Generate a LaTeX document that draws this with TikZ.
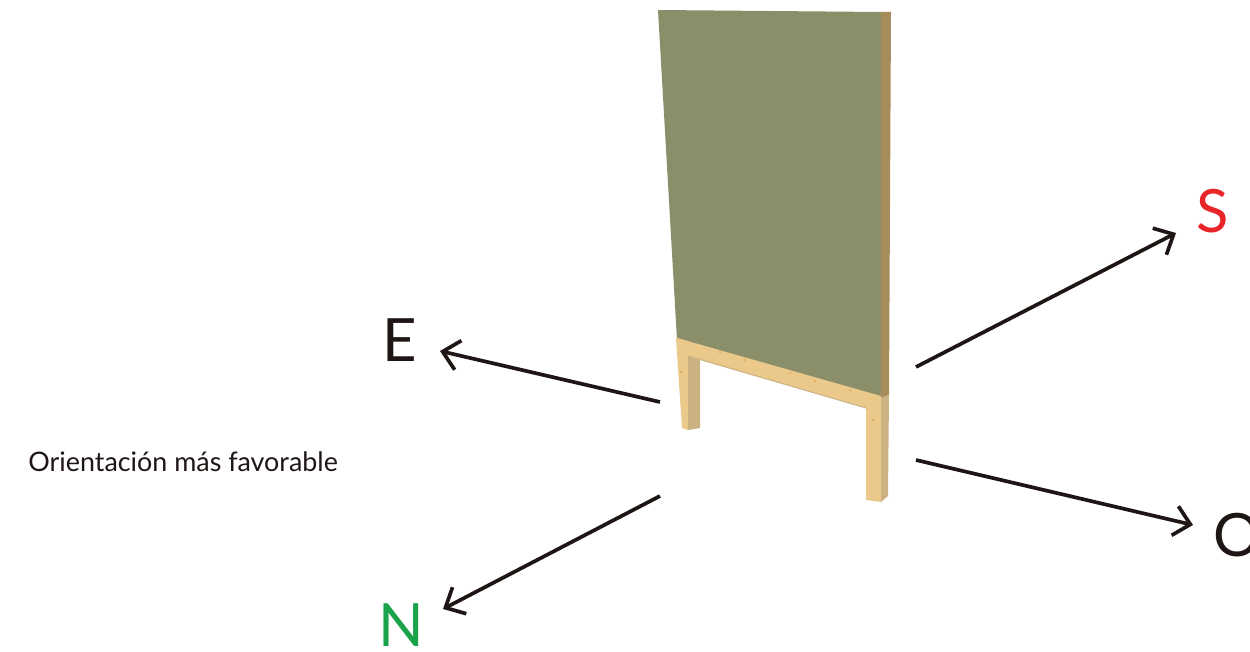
\documentclass[tikz,border=0pt]{standalone}
\usepackage{fontspec}
\setmainfont{Lato}
\usetikzlibrary{arrows.meta}

\definecolor{inkdark}{RGB}{30,22,20}
\definecolor{panelgreen}{RGB}{138,143,106}
\definecolor{paneledge}{RGB}{169,140,92}
\definecolor{woodlight}{RGB}{234,201,138}
\definecolor{woodshade}{RGB}{204,178,130}
\definecolor{woodknot}{RGB}{222,150,80}
\definecolor{southred}{RGB}{232,38,42}
\definecolor{northgreen}{RGB}{26,163,74}

\begin{document}
\begin{tikzpicture}[x=0.02cm,y=-0.02cm,
    dir/.style={draw=inkdark,line width=2.1pt,-{Straight Barb[length=9pt,width=17pt]}},
    point/.style={font=\fontsize{34}{34}\selectfont,inner sep=0pt}]
  \useasboundingbox (0,0) rectangle (1250,652);

  % panel and its frame
  \fill[panelgreen] (658,10) -- (881,12) -- (881,398) -- (677,340) -- cycle;
  \fill[paneledge] (881,12) -- (891,12) -- (889,395) -- (881,398) -- cycle;
  \fill[woodlight] (677,338) -- (881,396) -- (881,412) -- (688,356) -- cycle;
  \draw[woodshade,line width=0.6pt] (688,356) -- (866,408);
  \fill[woodlight] (676,338) -- (688,341) -- (688,430) -- (682,428) -- cycle;
  \fill[woodshade] (688,356) -- (700,360) -- (700,428) -- (688,430) -- cycle;
  \fill[woodlight] (866,398) -- (881,402) -- (881,502) -- (866,500) -- cycle;
  \fill[woodshade] (881,398) -- (889,395) -- (888,496) -- (881,502) -- cycle;
  \foreach \kx/\ky in {720/352,745/360,790/373,815/381,850/390,873/420,681/372}
    \fill[woodknot,opacity=0.6] (\kx,\ky) circle (1.3);

  % cardinal points
  \node[point,text=inkdark] (E) at (400,340) {E};
  \node[point,text=southred] (S) at (1213,211) {S};
  \node[point,text=inkdark,anchor=west] (O) at (1213,535) {O};
  \node[point,text=northgreen] (N) at (401,625) {N};
  \node[text=inkdark,anchor=west,inner sep=0pt,font=\fontsize{15.3}{16}\selectfont] (favorable)
    at (28,462) {Orientación más favorable};

  \coordinate (e0) at (660,402);
  \coordinate (e1) at (440,351);
  \coordinate (s0) at (916,367);
  \coordinate (s1) at (1176,233);
  \coordinate (o0) at (916,460);
  \coordinate (o1) at (1193,525);
  \coordinate (n0) at (660,496);
  \coordinate (n1) at (443,609);

  \begin{scope}[dir]
    \draw (e0) -- (e1);
    \draw (s0) -- (s1);
    \draw (o0) -- (o1);
    \draw (n0) -- (n1);
  \end{scope}
\end{tikzpicture}
\end{document}
